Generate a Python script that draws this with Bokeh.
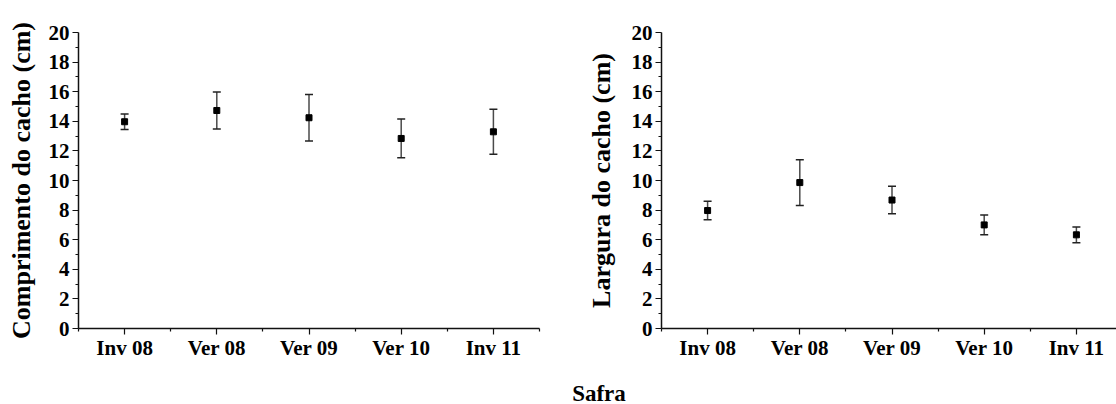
from bokeh.plotting import figure
from bokeh.layouts import row, column
from bokeh.models import FixedTicker, Range1d, ColumnDataSource, Div
from bokeh.embed import file_html
from bokeh.resources import INLINE

safras = ["Inv 08", "Ver 08", "Ver 09", "Ver 10", "Inv 11"]
comp_mean = [13.97, 14.73, 14.24, 12.84, 13.29]
comp_err = [0.52, 1.25, 1.57, 1.31, 1.52]
larg_mean = [7.97, 9.86, 8.68, 7.00, 6.33]
larg_err = [0.63, 1.55, 0.93, 0.67, 0.53]
y_major = [0, 2, 4, 6, 8, 10, 12, 14, 16, 18, 20]
y_minor = [1, 3, 5, 7, 9, 11, 13, 15, 17, 19]
y_label_comp = "Comprimento do cacho (cm)"
y_label_larg = "Largura do cacho (cm)"
x_title = "Safra"

FONT = "Liberation Serif"
ERR_COLOR = "#4a4a4a"
TOP = 32
BOTTOM = 51
FRAME_H = 296


def make_panel(mean, err, ylabel, bl, fw, br, x_end, lab_standoff):
    xs = list(range(1, len(safras) + 1))
    src = ColumnDataSource(dict(
        x=xs, m=mean,
        lo=[m - e for m, e in zip(mean, err)],
        hi=[m + e for m, e in zip(mean, err)],
    ))
    p = figure(output_backend="svg", toolbar_location=None,
               frame_width=fw, frame_height=FRAME_H,
               min_border_left=bl, min_border_right=br,
               min_border_top=TOP, min_border_bottom=BOTTOM,
               x_range=Range1d(0.5, x_end), y_range=Range1d(0, 20),
               background_fill_color="white", border_fill_color="white")
    p.outline_line_color = None
    p.xgrid.visible = False
    p.ygrid.visible = False

    p.segment(x0="x", y0="lo", x1="x", y1="hi", source=src,
              line_color=ERR_COLOR, line_width=1.5)
    p.scatter(x="x", y="lo", source=src, marker="dash", size=8,
              line_color="#222222", line_width=1.5)
    p.scatter(x="x", y="hi", source=src, marker="dash", size=8,
              line_color="#222222", line_width=1.5)
    p.scatter(x="x", y="m", source=src, marker="square", size=6,
              fill_color="black", line_color="black")

    minor_x = [i + 0.5 for i in range(0, len(safras) + 1)]
    p.xaxis.ticker = FixedTicker(ticks=xs, minor_ticks=minor_x)
    p.xaxis.major_label_overrides = {i + 1: s for i, s in enumerate(safras)}
    p.yaxis.ticker = FixedTicker(ticks=y_major, minor_ticks=y_minor)
    p.yaxis.axis_label = ylabel

    for ax in (p.xaxis[0], p.yaxis[0]):
        ax.axis_line_width = 1.5
        ax.axis_line_color = "#111111"
        ax.major_tick_line_color = "#111111"
        ax.minor_tick_line_color = "#111111"
        ax.major_tick_line_width = 1.2
        ax.minor_tick_line_width = 1.2
        ax.major_tick_in = 0
        ax.minor_tick_in = 0
        ax.major_label_text_font = FONT
        ax.major_label_text_font_style = "bold"
        ax.major_label_text_font_size = "21px"
        ax.major_label_text_color = "black"
        ax.axis_label_text_font = FONT
        ax.axis_label_text_font_style = "bold"
        ax.axis_label_text_font_size = "26px"
        ax.axis_label_text_color = "black"
    p.xaxis.major_tick_out = 6
    p.xaxis.minor_tick_out = 3
    p.xaxis.major_label_standoff = 1
    p.yaxis.major_tick_out = 6
    p.yaxis.minor_tick_out = 3
    p.yaxis.major_label_standoff = 3
    p.yaxis.axis_label_standoff = lab_standoff
    return p


# left panel: frame 78 -> 539 ; right panel: frame 661 -> 1116 (cropped like reference)
p1 = make_panel(comp_mean, comp_err, y_label_comp, 78, 461, 10, 5.5, 10)
p2 = make_panel(larg_mean, larg_err, y_label_larg, 112, 455, 0, 0.5 + 455 / 92.2, 13)

div = Div(text=x_title, width=1116, height=20,
          styles={"text-align": "center", "font-family": FONT,
                  "font-weight": "bold", "font-size": "23px",
                  "line-height": "20px", "color": "black",
                  "padding-left": "72px", "box-sizing": "border-box",
                  "white-space": "nowrap"})

layout = column(row(p1, p2, spacing=0), div, spacing=0)
open("out.html", "w").write(file_html(layout, INLINE))
